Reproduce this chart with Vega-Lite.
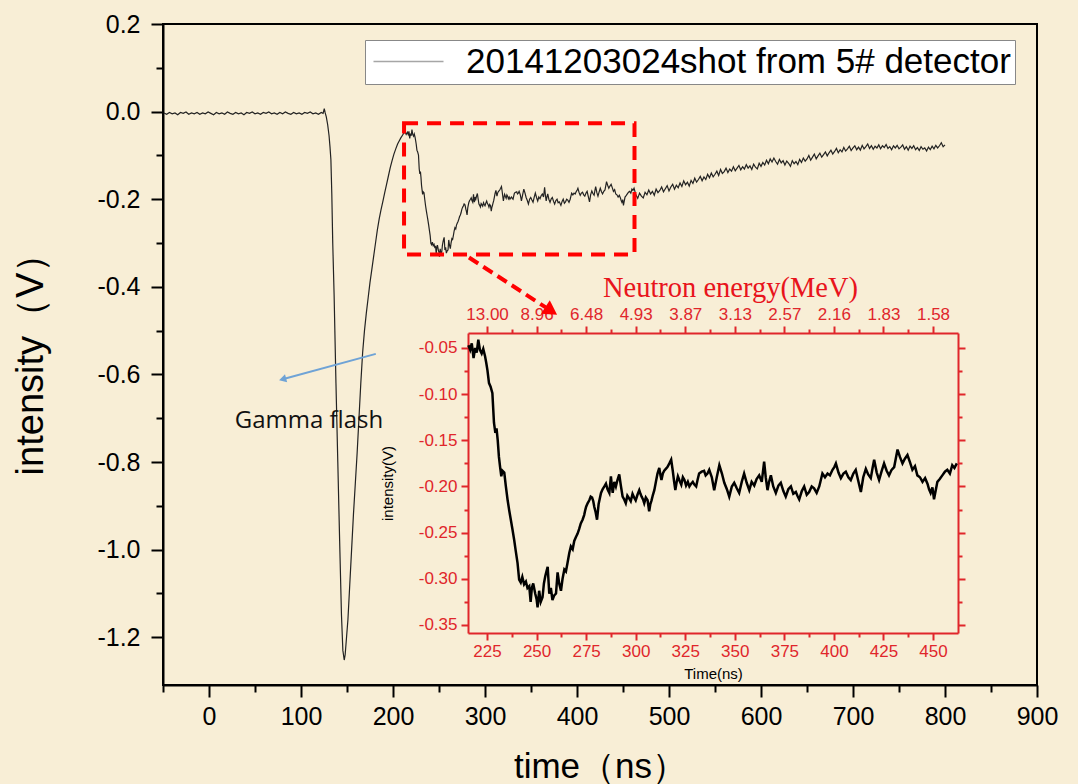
{
  "$schema": "https://vega.github.io/schema/vega-lite/v6.json",
  "width": 874,
  "height": 661,
  "autosize": {"type": "none"},
  "padding": {"left": 163, "top": 24, "right": 41, "bottom": 99},
  "background": "#f8eed6",
  "config": {
    "font": "Liberation Sans",
    "view": {"stroke": "#000000", "strokeWidth": 2},
    "axis": {"grid": false, "labelFont": "Liberation Sans", "titleFont": "Liberation Sans", "titleFontWeight": "normal", "domainColor": "#000000", "tickColor": "#000000", "labelColor": "#000000", "titleColor": "#000000"}
  },
  "datasets": {
    "trace": [
      {"t":-49,"v":-0.003},{"t":-46,"v":-0.006},{"t":-43,"v":-0.002},{"t":-40,"v":-0.005},{"t":-37,"v":-0.003},{"t":-34,"v":-0.007},{"t":-31,"v":-0.002},{"t":-28,"v":-0.004},{"t":-25,"v":-0.001},{"t":-22,"v":-0.006},{"t":-19,"v":-0.003},{"t":-16,"v":-0.005},{"t":-13,"v":-0.002},{"t":-10,"v":-0.006},{"t":-7,"v":-0.003},{"t":-4,"v":-0.005},{"t":-1,"v":-0.001},{"t":2,"v":-0.004},{"t":5,"v":-0.007},{"t":8,"v":-0.002},{"t":11,"v":-0.005},{"t":14,"v":-0.003},{"t":17,"v":-0.006},{"t":20,"v":-0.001},{"t":23,"v":-0.004},{"t":26,"v":-0.006},{"t":29,"v":-0.002},{"t":32,"v":-0.005},{"t":35,"v":-0.003},{"t":38,"v":-0.007},{"t":41,"v":-0.002},{"t":44,"v":-0.004},{"t":47,"v":-0.001},{"t":50,"v":-0.005},{"t":53,"v":-0.003},{"t":56,"v":-0.006},{"t":59,"v":-0.002},{"t":62,"v":-0.004},{"t":65,"v":-0.001},{"t":68,"v":-0.005},{"t":71,"v":-0.003},{"t":74,"v":-0.006},{"t":77,"v":-0.002},{"t":80,"v":-0.005},{"t":83,"v":-0.001},{"t":86,"v":-0.004},{"t":89,"v":-0.006},{"t":92,"v":-0.002},{"t":95,"v":-0.005},{"t":98,"v":-0.003},{"t":101,"v":-0.006},{"t":104,"v":-0.002},{"t":107,"v":-0.004},{"t":110,"v":-0.001},{"t":113,"v":-0.005},{"t":116,"v":-0.003},{"t":119,"v":-0.006},{"t":122,"v":-0.002},{"t":124,"v":-0.004},{"t":125.3,"v":0.007},{"t":126.3,"v":-0.003},
      {"t":127.5,"v":-0.012},{"t":129,"v":-0.03},{"t":130.5,"v":-0.055},{"t":131.5,"v":-0.08},{"t":132.5,"v":-0.11},{"t":133.5,"v":-0.19},{"t":134.5,"v":-0.3},{"t":136,"v":-0.42},{"t":138,"v":-0.62},{"t":140,"v":-0.8},{"t":142,"v":-0.98},{"t":144,"v":-1.15},{"t":145.5,"v":-1.23},{"t":147,"v":-1.252},{"t":148,"v":-1.24},{"t":149.5,"v":-1.2},{"t":151,"v":-1.16},{"t":153,"v":-1.08},{"t":155,"v":-1.0},{"t":157,"v":-0.92},{"t":159,"v":-0.85},{"t":161,"v":-0.78},{"t":163,"v":-0.7},{"t":165,"v":-0.62},{"t":167,"v":-0.55},{"t":169,"v":-0.5},{"t":171,"v":-0.46},{"t":173,"v":-0.425},{"t":175,"v":-0.39},{"t":177,"v":-0.36},{"t":179,"v":-0.33},{"t":181,"v":-0.3},{"t":183,"v":-0.27},{"t":185,"v":-0.245},{"t":187,"v":-0.224},{"t":189,"v":-0.205},{"t":191,"v":-0.185},{"t":193,"v":-0.166},{"t":195,"v":-0.147},{"t":197,"v":-0.128},{"t":199,"v":-0.112},{"t":201,"v":-0.097},{"t":203,"v":-0.085},{"t":205,"v":-0.074},{"t":207,"v":-0.066},{"t":208.5,"v":-0.06},{"t":210,"v":-0.055},{"t":211.5,"v":-0.05},{"t":213,"v":-0.046},{"t":214.3,"v":-0.052},
      {"t":215.6,"v":-0.047},{"t":216.5,"v":-0.052},{"t":217.3,"v":-0.045},{"t":218.2,"v":-0.061},{"t":219,"v":-0.05},{"t":219.8,"v":-0.055},{"t":220.6,"v":-0.041},{"t":221.4,"v":-0.052},{"t":222.3,"v":-0.056},{"t":223.1,"v":-0.051},{"t":224,"v":-0.059},{"t":224.6,"v":-0.066},{"t":225.2,"v":-0.074},{"t":226,"v":-0.088},{"t":226.8,"v":-0.092},{"t":227.7,"v":-0.099},{"t":228.5,"v":-0.131},{"t":229.2,"v":-0.142},{"t":229.8,"v":-0.137},{"t":230.4,"v":-0.15},{"t":231,"v":-0.168},{"t":231.6,"v":-0.179},{"t":232.2,"v":-0.189},{"t":232.8,"v":-0.183},{"t":233.7,"v":-0.185},{"t":234.5,"v":-0.2},{"t":235.4,"v":-0.215},{"t":236.2,"v":-0.226},{"t":237,"v":-0.236},{"t":237.8,"v":-0.246},{"t":238.7,"v":-0.258},{"t":239.5,"v":-0.27},{"t":240.4,"v":-0.283},{"t":241.2,"v":-0.301},{"t":242,"v":-0.304},{"t":242.8,"v":-0.298},{"t":243.7,"v":-0.306},{"t":244.6,"v":-0.303},{"t":245.4,"v":-0.31},{"t":246.3,"v":-0.308},{"t":247,"v":-0.325},{"t":247.6,"v":-0.31},{"t":248.3,"v":-0.305},{"t":249.3,"v":-0.316},{"t":250,"v":-0.322},{"t":250.5,"v":-0.331},{"t":251.3,"v":-0.313},{"t":252.1,"v":-0.325},{"t":253,"v":-0.32},{"t":253.7,"v":-0.305},{"t":254.4,"v":-0.297},{"t":255,"v":-0.292},{"t":255.6,"v":-0.287},{"t":256.4,"v":-0.316},{"t":257.2,"v":-0.31},{"t":258,"v":-0.323},{"t":258.9,"v":-0.318},{"t":259.8,"v":-0.316},{"t":260.6,"v":-0.293},{"t":261.4,"v":-0.305},{"t":262.3,"v":-0.313},{"t":263.1,"v":-0.3},{"t":264,"v":-0.29},{"t":264.8,"v":-0.292},{"t":265.6,"v":-0.283},{"t":266.5,"v":-0.272},{"t":267.3,"v":-0.265},{"t":268.2,"v":-0.268},{"t":269,"v":-0.259},{"t":269.8,"v":-0.255},{"t":270.7,"v":-0.251},{"t":271.5,"v":-0.246},{"t":272.3,"v":-0.24},{"t":273.2,"v":-0.236},{"t":274,"v":-0.231},{"t":274.5,"v":-0.226},{"t":275,"v":-0.222},{"t":275.8,"v":-0.218},{"t":276.6,"v":-0.215},{"t":277.3,"v":-0.211},{"t":278,"v":-0.212},{"t":278.6,"v":-0.216},{"t":279.1,"v":-0.222},{"t":279.8,"v":-0.228},{"t":280.5,"v":-0.236},{"t":281.3,"v":-0.219},{"t":282,"v":-0.212},{"t":282.5,"v":-0.207},{"t":283.3,"v":-0.203},{"t":284.2,"v":-0.2},{"t":285,"v":-0.197},{"t":285.8,"v":-0.203},{"t":286.7,"v":-0.207},{"t":287.5,"v":-0.189},{"t":288,"v":-0.2},{"t":288.4,"v":-0.207},{"t":289.2,"v":-0.195},{"t":290,"v":-0.2},{"t":290.8,"v":-0.193},{"t":291.7,"v":-0.187},{"t":292.5,"v":-0.199},{"t":293.4,"v":-0.211},{"t":294.2,"v":-0.214},{"t":295,"v":-0.218},{"t":295.8,"v":-0.21},{"t":296.7,"v":-0.213},{"t":297.5,"v":-0.216},{"t":298.4,"v":-0.208},{"t":299.2,"v":-0.212},{"t":300,"v":-0.215},{"t":300.9,"v":-0.209},{"t":301.8,"v":-0.204},{"t":302.4,"v":-0.208},{"t":303,"v":-0.211},{"t":303.7,"v":-0.214},{"t":304.3,"v":-0.218},{"t":305.1,"v":-0.212},{"t":306,"v":-0.215},{"t":306.8,"v":-0.227},{"t":307.4,"v":-0.219},{"t":308,"v":-0.215},{"t":308.7,"v":-0.209},{"t":309.4,"v":-0.204},{"t":310.2,"v":-0.195},{"t":311,"v":-0.186},{"t":311.9,"v":-0.18},{"t":312.5,"v":-0.188},{"t":313,"v":-0.193},{"t":313.7,"v":-0.186},{"t":314.4,"v":-0.183},{"t":315.2,"v":-0.181},{"t":316,"v":-0.179},{"t":317,"v":-0.175},{"t":317.9,"v":-0.171},{"t":318.7,"v":-0.183},{"t":319.4,"v":-0.195},{"t":320,"v":-0.204},{"t":320.6,"v":-0.196},{"t":321.3,"v":-0.189},{"t":322.2,"v":-0.194},{"t":323,"v":-0.198},{"t":323.8,"v":-0.19},{"t":324.6,"v":-0.193},{"t":325.4,"v":-0.199},{"t":326.3,"v":-0.195},{"t":327.1,"v":-0.2},{"t":328,"v":-0.197},{"t":328.8,"v":-0.195},{"t":329.6,"v":-0.198},{"t":330.5,"v":-0.2},{"t":331.2,"v":-0.193},{"t":332,"v":-0.186},{"t":333.3,"v":-0.184},{"t":334.5,"v":-0.183},{"t":335.3,"v":-0.188},{"t":336.2,"v":-0.186},{"t":337.1,"v":-0.182},{"t":338.4,"v":-0.19},{"t":339.6,"v":-0.204},{"t":340.9,"v":-0.19},{"t":342.2,"v":-0.177},{"t":343.5,"v":-0.186},{"t":344.7,"v":-0.196},{"t":346,"v":-0.203},{"t":347.2,"v":-0.211},{"t":348.5,"v":-0.2},{"t":349.7,"v":-0.196},{"t":351,"v":-0.202},{"t":352.2,"v":-0.207},{"t":353.5,"v":-0.195},{"t":354.7,"v":-0.186},{"t":356,"v":-0.196},{"t":357.3,"v":-0.204},{"t":358.5,"v":-0.195},{"t":359.8,"v":-0.199},{"t":361,"v":-0.192},{"t":362.3,"v":-0.188},{"t":363.6,"v":-0.195},{"t":364.8,"v":-0.173},{"t":365.6,"v":-0.19},{"t":366.5,"v":-0.204},{"t":367.3,"v":-0.195},{"t":368.2,"v":-0.188},{"t":369.4,"v":-0.2},{"t":370.7,"v":-0.207},{"t":372,"v":-0.199},{"t":373.2,"v":-0.196},{"t":374.5,"v":-0.205},{"t":375.7,"v":-0.211},{"t":377,"v":-0.203},{"t":378.3,"v":-0.2},{"t":379.5,"v":-0.208},{"t":380.8,"v":-0.206},{"t":381.6,"v":-0.21},{"t":382.5,"v":-0.214},{"t":383.8,"v":-0.205},{"t":385,"v":-0.2},{"t":386.3,"v":-0.209},{"t":387.5,"v":-0.206},{"t":388.8,"v":-0.2},{"t":390,"v":-0.202},{"t":391.3,"v":-0.207},{"t":392.6,"v":-0.2},{"t":393.4,"v":-0.193},{"t":394.2,"v":-0.186},{"t":395.5,"v":-0.19},{"t":396.8,"v":-0.186},{"t":398,"v":-0.188},{"t":399.3,"v":-0.182},{"t":400.2,"v":-0.179},{"t":401,"v":-0.175},{"t":402.3,"v":-0.185},{"t":403.5,"v":-0.191},{"t":404.8,"v":-0.186},{"t":406,"v":-0.184},{"t":407.3,"v":-0.19},{"t":408.5,"v":-0.193},{"t":409.8,"v":-0.186},{"t":411,"v":-0.182},{"t":412.3,"v":-0.194},{"t":413.6,"v":-0.206},{"t":414.8,"v":-0.19},{"t":416.1,"v":-0.181},{"t":417.3,"v":-0.187},{"t":418.6,"v":-0.191},{"t":419.5,"v":-0.18},{"t":420.3,"v":-0.171},{"t":421.6,"v":-0.185},{"t":422.8,"v":-0.193},{"t":424,"v":-0.184},{"t":425.3,"v":-0.175},{"t":426.6,"v":-0.183},{"t":427.8,"v":-0.188},{"t":429.1,"v":-0.182},{"t":430.4,"v":-0.179},{"t":431.2,"v":-0.17},{"t":432.1,"v":-0.16},{"t":433.3,"v":-0.168},{"t":434.6,"v":-0.175},{"t":435.8,"v":-0.17},{"t":437.1,"v":-0.166},{"t":438.4,"v":-0.174},{"t":439.6,"v":-0.182},{"t":440.9,"v":-0.178},{"t":442.1,"v":-0.188},{"t":443.4,"v":-0.19},{"t":444.7,"v":-0.195},{"t":446,"v":-0.191},{"t":447.2,"v":-0.197},{"t":448,"v":-0.203},{"t":448.8,"v":-0.207},{"t":449.7,"v":-0.201},{"t":450.5,"v":-0.214},{"t":451.3,"v":-0.205},{"t":452.2,"v":-0.195},{"t":453.4,"v":-0.192},{"t":454.7,"v":-0.188},{"t":456,"v":-0.184},{"t":457.2,"v":-0.182},{"t":458.5,"v":-0.186},{"t":459.7,"v":-0.177},{"t":460.8,"v":-0.18},{"t":462,"v":-0.175},
      {"t":464,"v":-0.19},{"t":466,"v":-0.198},{"t":468,"v":-0.186},{"t":470,"v":-0.193},{"t":472,"v":-0.197},{"t":474,"v":-0.184},{"t":476,"v":-0.19},{"t":478,"v":-0.179},{"t":480,"v":-0.188},{"t":482,"v":-0.182},{"t":484,"v":-0.191},{"t":486,"v":-0.177},{"t":488,"v":-0.185},{"t":490,"v":-0.18},{"t":492,"v":-0.172},{"t":494,"v":-0.183},{"t":496,"v":-0.176},{"t":498,"v":-0.169},{"t":500,"v":-0.181},{"t":502,"v":-0.172},{"t":504,"v":-0.166},{"t":506,"v":-0.177},{"t":508,"v":-0.168},{"t":510,"v":-0.174},{"t":512,"v":-0.163},{"t":514,"v":-0.171},{"t":516,"v":-0.158},{"t":518,"v":-0.167},{"t":520,"v":-0.161},{"t":522,"v":-0.17},{"t":524,"v":-0.157},{"t":526,"v":-0.164},{"t":528,"v":-0.152},{"t":530,"v":-0.161},{"t":532,"v":-0.155},{"t":534,"v":-0.148},{"t":536,"v":-0.158},{"t":538,"v":-0.149},{"t":540,"v":-0.155},{"t":542,"v":-0.143},{"t":544,"v":-0.151},{"t":546,"v":-0.14},{"t":548,"v":-0.149},{"t":550,"v":-0.143},{"t":552,"v":-0.136},{"t":554,"v":-0.146},{"t":556,"v":-0.132},{"t":558,"v":-0.141},{"t":560,"v":-0.137},{"t":562,"v":-0.129},{"t":564,"v":-0.139},{"t":566,"v":-0.131},{"t":568,"v":-0.136},{"t":570,"v":-0.126},{"t":572,"v":-0.135},{"t":574,"v":-0.129},{"t":576,"v":-0.123},{"t":578,"v":-0.133},{"t":580,"v":-0.126},{"t":582,"v":-0.131},{"t":584,"v":-0.121},{"t":586,"v":-0.129},{"t":588,"v":-0.124},{"t":590,"v":-0.132},{"t":592,"v":-0.12},{"t":594,"v":-0.127},{"t":596,"v":-0.131},{"t":598,"v":-0.118},{"t":600,"v":-0.125},{"t":602,"v":-0.116},{"t":604,"v":-0.122},{"t":606,"v":-0.111},{"t":608,"v":-0.119},{"t":610,"v":-0.108},{"t":612,"v":-0.115},{"t":614,"v":-0.106},{"t":616,"v":-0.114},{"t":618,"v":-0.12},{"t":620,"v":-0.109},{"t":622,"v":-0.117},{"t":624,"v":-0.112},{"t":626,"v":-0.122},{"t":628,"v":-0.113},{"t":630,"v":-0.118},{"t":632,"v":-0.125},{"t":634,"v":-0.112},{"t":636,"v":-0.119},{"t":638,"v":-0.114},{"t":640,"v":-0.121},{"t":642,"v":-0.109},{"t":644,"v":-0.116},{"t":646,"v":-0.106},{"t":648,"v":-0.113},{"t":650,"v":-0.108},{"t":652,"v":-0.1},{"t":654,"v":-0.111},{"t":656,"v":-0.104},{"t":658,"v":-0.097},{"t":660,"v":-0.108},{"t":662,"v":-0.101},{"t":664,"v":-0.095},{"t":666,"v":-0.104},{"t":668,"v":-0.098},{"t":670,"v":-0.092},{"t":672,"v":-0.101},{"t":674,"v":-0.094},{"t":676,"v":-0.088},{"t":678,"v":-0.097},{"t":680,"v":-0.091},{"t":682,"v":-0.084},{"t":684,"v":-0.094},{"t":686,"v":-0.087},{"t":688,"v":-0.092},{"t":690,"v":-0.082},{"t":692,"v":-0.09},{"t":694,"v":-0.085},{"t":696,"v":-0.079},{"t":698,"v":-0.089},{"t":700,"v":-0.083},{"t":702,"v":-0.078},{"t":704,"v":-0.087},{"t":706,"v":-0.081},{"t":708,"v":-0.088},{"t":710,"v":-0.077},{"t":712,"v":-0.085},{"t":714,"v":-0.08},{"t":716,"v":-0.074},{"t":718,"v":-0.084},{"t":720,"v":-0.078},{"t":722,"v":-0.086},{"t":724,"v":-0.079},{"t":726,"v":-0.083},{"t":728,"v":-0.076},{"t":730,"v":-0.085},{"t":732,"v":-0.078},{"t":734,"v":-0.082},{"t":736,"v":-0.075},{"t":738,"v":-0.084},{"t":740,"v":-0.08},{"t":742,"v":-0.087},{"t":744,"v":-0.078},{"t":746,"v":-0.083},{"t":748,"v":-0.077},{"t":750,"v":-0.085},{"t":752,"v":-0.081},{"t":754,"v":-0.076},{"t":756,"v":-0.086},{"t":758,"v":-0.08},{"t":760,"v":-0.088},{"t":762,"v":-0.079},{"t":764,"v":-0.084},{"t":766,"v":-0.078},{"t":768,"v":-0.087},{"t":770,"v":-0.082},{"t":772,"v":-0.089},{"t":774,"v":-0.08},{"t":776,"v":-0.086},{"t":778,"v":-0.083},{"t":780,"v":-0.09},{"t":782,"v":-0.081},{"t":784,"v":-0.087},{"t":786,"v":-0.079},{"t":788,"v":-0.085},{"t":790,"v":-0.077},{"t":792,"v":-0.083},{"t":794,"v":-0.078},{"t":796,"v":-0.071},{"t":798,"v":-0.08},{"t":800,"v":-0.076}
    ]
  },
  "layer": [
    {
      "layer": [
        {
          "data": {"name": "trace"},
          "mark": {"type": "line", "strokeWidth": 1.2},
          "encoding": {
            "x": {"field": "t", "type": "quantitative", "scale": {"domain": [-50, 900], "nice": false, "zero": false},
              "axis": {"orient": "bottom", "values": [0,100,200,300,400,500,600,700,800,900], "tickSize": 12, "tickWidth": 2, "domainWidth": 2, "labelFontSize": 25, "labelPadding": 7, "labelFlush": false, "labelOverlap": false, "title": "time（ns）", "titleFontSize": 35, "titlePadding": 20}},
            "y": {"field": "v", "type": "quantitative", "scale": {"domain": [-1.309, 0.2], "nice": false, "zero": false},
              "axis": {"orient": "left", "values": [0.2,0,-0.2,-0.4,-0.6,-0.8,-1.0,-1.2], "format": ".1f", "labelExpr": "replace(datum.label, '\u2212', '-')", "tickSize": 12, "tickWidth": 2, "domainWidth": 2, "labelFontSize": 25, "labelPadding": 11, "labelFlush": false, "labelOverlap": false, "title": "intensity（V）", "titleFontSize": 38, "titlePadding": 46}},
            "color": {"datum": "20141203024shot from 5# detector", "type": "nominal", "scale": {"range": ["#222222"]},
              "legend": {"title": null, "orient": "none", "legendX": 202, "legendY": 16, "symbolType": "M-7,0H7", "symbolSize": 100, "symbolStrokeWidth": 1.5, "symbolOpacity": 0.4, "symbolOffset": 22, "labelFontSize": 35, "labelFont": "Liberation Sans", "labelColor": "#000000", "fillColor": "#ffffff", "strokeColor": "#888888", "padding": 4, "labelOffset": 40, "labelLimit": 800}}
          }
        },
        {
          "data": {"name": "trace"},
          "mark": {"type": "line", "opacity": 0},
          "encoding": {
            "x": {"field": "t", "type": "quantitative", "axis": {"orient": "bottom", "values": [-50,50,150,250,350,450,550,650,750,850], "tickSize": 7, "tickWidth": 2, "labels": false, "domain": false, "title": null}},
            "y": {"field": "v", "type": "quantitative", "axis": {"orient": "left", "values": [0.1,-0.1,-0.3,-0.5,-0.7,-0.9,-1.1], "tickSize": 7, "tickWidth": 2, "labels": false, "domain": false, "title": null}}
          }
        },
        {
          "data": {"values": [{"x1": 212, "x2": 462.5, "y1": -0.0268, "y2": -0.326}]},
          "mark": {"type": "rect", "filled": false, "stroke": "#ff0000", "strokeWidth": 4, "strokeDash": [14, 9]},
          "encoding": {
            "x": {"field": "x1", "type": "quantitative", "axis": null},
            "x2": {"field": "x2"},
            "y": {"field": "y1", "type": "quantitative", "axis": null},
            "y2": {"field": "y2"}
          }
        },
        {
          "data": {"values": [{"t": 282.6, "v": -0.333, "o": 1}, {"t": 366, "v": -0.447, "o": 2}]},
          "mark": {"type": "line", "stroke": "#ff0000", "strokeWidth": 4, "strokeDash": [11, 6]},
          "encoding": {
            "x": {"field": "t", "type": "quantitative", "axis": null},
            "y": {"field": "v", "type": "quantitative", "axis": null},
            "order": {"field": "o"}
          }
        },
        {
          "data": {"values": [{"t": 372, "v": -0.455}]},
          "mark": {"type": "point", "shape": "triangle-right", "filled": true, "color": "#ff0000", "opacity": 1, "size": 260, "angle": 33},
          "encoding": {
            "x": {"field": "t", "type": "quantitative", "axis": null},
            "y": {"field": "v", "type": "quantitative", "axis": null}
          }
        },
        {
          "data": {"values": [{"t": 181.3, "v": -0.553, "o": 1}, {"t": 82, "v": -0.61, "o": 2}]},
          "mark": {"type": "line", "stroke": "#6fa3d6", "strokeWidth": 2},
          "encoding": {
            "x": {"field": "t", "type": "quantitative", "axis": null},
            "y": {"field": "v", "type": "quantitative", "axis": null},
            "order": {"field": "o"}
          }
        },
        {
          "data": {"values": [{"t": 80, "v": -0.611}]},
          "mark": {"type": "point", "shape": "triangle-right", "filled": true, "color": "#6fa3d6", "opacity": 1, "size": 70, "angle": 165},
          "encoding": {
            "x": {"field": "t", "type": "quantitative", "axis": null},
            "y": {"field": "v", "type": "quantitative", "axis": null}
          }
        },
        {
          "data": {"values": [{"t": 108.7, "v": -0.7066, "label": "Gamma flash"}]},
          "mark": {"type": "text", "font": "Open Sans", "fontSize": 24, "color": "#111111", "align": "center", "baseline": "middle"},
          "encoding": {
            "x": {"field": "t", "type": "quantitative", "axis": null},
            "y": {"field": "v", "type": "quantitative", "axis": null},
            "text": {"field": "label"}
          }
        }
      ],
      "resolve": {"axis": {"x": "independent", "y": "independent"}}
    },
    {
      "data": {"name": "trace"},
      "transform": [{"filter": "datum.t >= 215.4 && datum.t <= 462.6"}],
      "layer": [
        {
          "mark": {"type": "line", "color": "#000000", "strokeWidth": 2.5},
          "encoding": {
            "x": {"field": "t", "type": "quantitative", "scale": {"domain": [215.4, 462.6], "range": [305, 795], "nice": false, "zero": false},
              "axis": {"orient": "bottom", "offset": -52, "values": [225,250,275,300,325,350,375,400,425,450], "tickSize": 7, "tickWidth": 2, "domainWidth": 2, "domainColor": "#e0262b", "tickColor": "#e0262b", "labelColor": "#e0262b", "labelFontSize": 17, "labelPadding": 3, "labelFlush": false, "labelOverlap": false, "title": "Time(ns)", "titleFontSize": 15, "titleColor": "#000000", "titlePadding": 7}},
            "y": {"field": "v", "type": "quantitative", "scale": {"domain": [-0.3587, -0.0338], "range": [609, 309], "nice": false, "zero": false},
              "axis": {"orient": "left", "offset": -305, "values": [-0.35,-0.3,-0.25,-0.2,-0.15,-0.1,-0.05], "format": ".2f", "labelExpr": "replace(datum.label, '\u2212', '-')", "tickSize": 7, "tickWidth": 2, "domainWidth": 2, "domainColor": "#e0262b", "tickColor": "#e0262b", "labelColor": "#e0262b", "labelFontSize": 17, "labelPadding": 4, "labelFlush": false, "labelOverlap": false, "title": "intensity(V)", "titleFontSize": 15, "titleColor": "#000000", "titlePadding": 23}}
          }
        },
        {
          "mark": {"type": "line", "opacity": 0},
          "encoding": {
            "x": {"field": "t", "type": "quantitative",
              "axis": {"orient": "top", "offset": -309, "values": [225,250,275,300,325,350,375,400,425,450], "labelExpr": "datum.value == 225 ? '13.00' : datum.value == 250 ? '8.96' : datum.value == 275 ? '6.48' : datum.value == 300 ? '4.93' : datum.value == 325 ? '3.87' : datum.value == 350 ? '3.13' : datum.value == 375 ? '2.57' : datum.value == 400 ? '2.16' : datum.value == 425 ? '1.83' : '1.58'", "tickSize": 7, "tickWidth": 2, "domainWidth": 2, "domainColor": "#e0262b", "tickColor": "#e0262b", "labelColor": "#e0262b", "labelFontSize": 17, "labelPadding": 3, "labelFlush": false, "labelOverlap": false, "title": "Neutron energy(MeV)", "titleFont": "Liberation Serif", "titleFontSize": 28.5, "titleColor": "#e8141c", "titlePadding": 3, "titleX": 567}},
            "y": {"field": "v", "type": "quantitative",
              "axis": {"orient": "right", "offset": -79, "values": [-0.35,-0.3,-0.25,-0.2,-0.15,-0.1,-0.05], "tickSize": 7, "tickWidth": 2, "domainWidth": 2, "domainColor": "#e0262b", "tickColor": "#e0262b", "labels": false, "title": null}}
          }
        },
        {
          "mark": {"type": "line", "opacity": 0},
          "encoding": {
            "x": {"field": "t", "type": "quantitative",
              "axis": {"orient": "bottom", "offset": -52, "values": [237.5,262.5,287.5,312.5,337.5,362.5,387.5,412.5,437.5], "tickSize": 4, "tickWidth": 2, "domain": false, "tickColor": "#e0262b", "labels": false, "title": null}},
            "y": {"field": "v", "type": "quantitative",
              "axis": {"orient": "left", "offset": -305, "values": [-0.325,-0.275,-0.225,-0.175,-0.125,-0.075], "tickSize": 4, "tickWidth": 2, "domain": false, "tickColor": "#e0262b", "labels": false, "title": null}}
          }
        },
        {
          "mark": {"type": "line", "opacity": 0},
          "encoding": {
            "x": {"field": "t", "type": "quantitative",
              "axis": {"orient": "top", "offset": -309, "values": [237.5,262.5,287.5,312.5,337.5,362.5,387.5,412.5,437.5], "tickSize": 4, "tickWidth": 2, "domain": false, "tickColor": "#e0262b", "labels": false, "title": null}},
            "y": {"field": "v", "type": "quantitative",
              "axis": {"orient": "right", "offset": -79, "values": [-0.325,-0.275,-0.225,-0.175,-0.125,-0.075], "tickSize": 4, "tickWidth": 2, "domain": false, "tickColor": "#e0262b", "labels": false, "title": null}}
          }
        }
      ],
      "resolve": {"axis": {"x": "independent", "y": "independent"}}
    }
  ],
  "resolve": {"scale": {"x": "independent", "y": "independent"}, "axis": {"x": "independent", "y": "independent"}}
}
